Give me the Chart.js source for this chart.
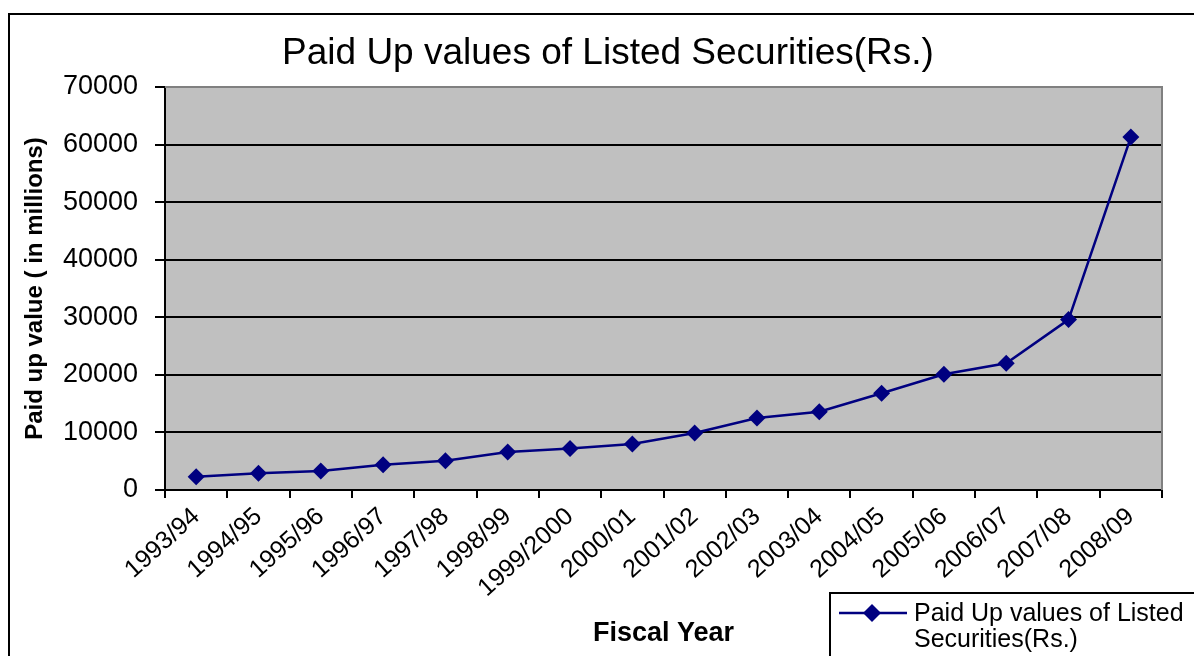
<!DOCTYPE html>
<html>
<head>
<meta charset="utf-8">
<script src="https://cdn.jsdelivr.net/npm/chart.js@4.4.1/dist/chart.umd.min.js"></script>
<style>
  html, body { margin: 0; padding: 0; background: #fff; }
  canvas { display: block; }
</style>
</head>
<body>
<canvas id="chart" width="1194" height="656"></canvas>
<script>
// data
const fiscalYears = [
    "1993/94", "1994/95", "1995/96", "1996/97", "1997/98", "1998/99",
    "1999/2000", "2000/01", "2001/02", "2002/03", "2003/04", "2004/05",
    "2005/06", "2006/07", "2007/08", "2008/09",
];
const paidUpValues = [
    2300, 2900, 3300, 4400, 5100, 6600, 7200, 8000,
    9900, 12500, 13600, 16800, 20100, 22000, 29600, 61300,
];
const yMin = 0;
const yMax = 70000;
const yStep = 10000;

const chartTitle = "Paid Up values of Listed Securities(Rs.)";
const seriesLabel = "Paid Up values of Listed Securities(Rs.)";
const legendLines = ["Paid Up values of Listed", "Securities(Rs.)"];

const FONT = "'Liberation Sans', Arial, sans-serif";
const NAVY = "#000080";

const framePlugin = {
    id: "frame",
    beforeDraw(chart) {
        const { ctx, chartArea } = chart;
        ctx.save();
        ctx.fillStyle = "#fff";
        ctx.fillRect(0, 0, chart.width, chart.height);
        ctx.fillStyle = "#C0C0C0";
        ctx.fillRect(chartArea.left, chartArea.top, chartArea.right - chartArea.left, chartArea.bottom - chartArea.top);
        // outer chart border (runs off the right and bottom edge)
        ctx.strokeStyle = "#000";
        ctx.lineWidth = 2;
        ctx.strokeRect(9, 14, 1400, 900);
        ctx.restore();
    },
    beforeDatasetsDraw(chart) {
        const { ctx, chartArea } = chart;
        ctx.save();
        ctx.strokeStyle = "#808080";
        ctx.lineWidth = 2;
        ctx.beginPath();
        ctx.moveTo(chartArea.left, chartArea.top);
        ctx.lineTo(chartArea.right, chartArea.top);
        ctx.lineTo(chartArea.right, chartArea.bottom);
        ctx.stroke();
        ctx.restore();
    },
    afterDraw(chart) {
        const { ctx } = chart;
        ctx.save();
        // title
        ctx.fillStyle = "#000";
        ctx.font = "37px " + FONT;
        ctx.textAlign = "center";
        ctx.textBaseline = "middle";
        ctx.fillText(chartTitle, 608, 54);

        // legend box, cut by the picture edge
        ctx.strokeStyle = "#000";
        ctx.lineWidth = 2;
        ctx.strokeRect(830, 593, 500, 200);
        const ds = chart.data.datasets[0];
        ctx.strokeStyle = ds.borderColor;
        ctx.lineWidth = 2.5;
        ctx.beginPath();
        ctx.moveTo(839, 613);
        ctx.lineTo(907, 613);
        ctx.stroke();
        ctx.fillStyle = ds.pointBackgroundColor;
        ctx.beginPath();
        ctx.moveTo(872, 604);
        ctx.lineTo(881, 613);
        ctx.lineTo(872, 622);
        ctx.lineTo(863, 613);
        ctx.closePath();
        ctx.fill();
        ctx.fillStyle = "#000";
        ctx.font = "25px " + FONT;
        ctx.textAlign = "left";
        ctx.fillText(legendLines[0], 914, 614);
        ctx.fillText(legendLines[1], 914, 640);
        ctx.restore();
    },
};

new Chart(document.getElementById("chart"), {
    type: "line",
    data: {
        labels: fiscalYears,
        datasets: [
            {
                label: seriesLabel,
                data: paidUpValues,
                borderColor: NAVY,
                backgroundColor: NAVY,
                pointBackgroundColor: NAVY,
                pointBorderColor: NAVY,
                borderWidth: 2.5,
                pointStyle: "rectRot",
                pointRadius: 8.5,
                pointBorderWidth: 0,
                tension: 0,
                fill: false,
            },
        ],
    },
    options: {
        responsive: false,
        animation: false,
        layout: { padding: { left: 12, right: 32, top: 87, bottom: 0 } },
        plugins: {
            legend: { display: false },
            title: { display: false },
            tooltip: { enabled: false },
        },
        scales: {
            x: {
                type: "category",
                offset: true,
                grid: {
                    offset: true,
                    drawOnChartArea: false,
                    color: "#000",
                    lineWidth: 2,
                    tickLength: 8,
                },
                border: { display: true, color: "#000", width: 2 },
                ticks: {
                    color: "#000",
                    font: { family: FONT, size: 25 },
                    minRotation: 42,
                    maxRotation: 42,
                    autoSkip: false,
                    padding: 4,
                },
                title: {
                    display: true,
                    text: "Fiscal Year",
                    color: "#000",
                    font: { family: FONT, size: 27, weight: "bold" },
                    padding: { top: 0, bottom: 6 },
                },
                afterFit(scale) {
                    scale.height = 166;
                },
            },
            y: {
                min: yMin,
                max: yMax,
                grid: {
                    color: (c) => (c.tick && c.tick.value === yMax ? "#808080" : "#000"),
                    tickColor: "#000",
                    lineWidth: 2,
                    tickLength: 10,
                },
                border: { display: true, color: "#000", width: 2 },
                ticks: {
                    stepSize: yStep,
                    color: "#000",
                    font: { family: FONT, size: 27 },
                    padding: 17,
                    callback: (v) => String(v),
                },
                title: {
                    display: true,
                    text: "Paid up value ( in millions)",
                    color: "#000",
                    font: { family: FONT, size: 24, weight: "bold" },
                    padding: { top: 9, bottom: 0 },
                },
                afterFit(scale) {
                    scale.width = 153;
                },
            },
        },
    },
    plugins: [framePlugin],
});
</script>
</body>
</html>
